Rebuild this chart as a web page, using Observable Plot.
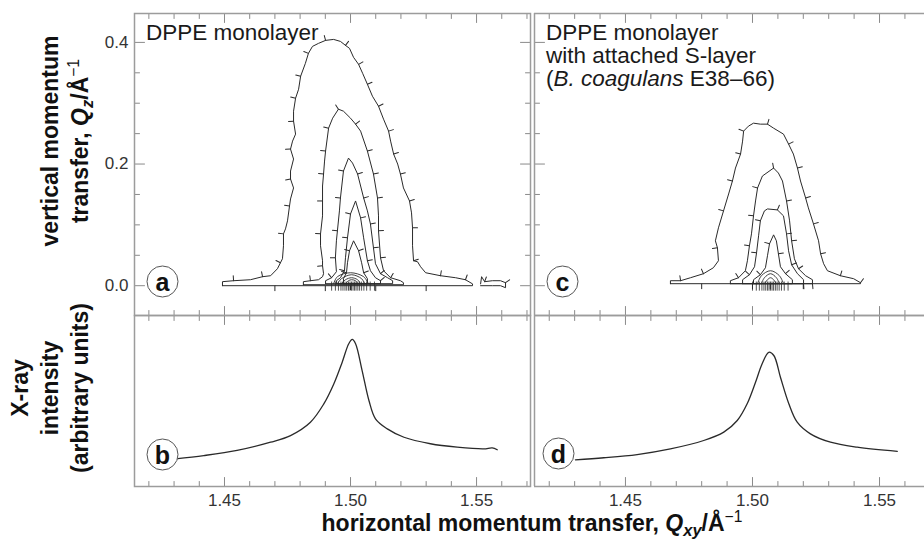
<!DOCTYPE html>
<html><head><meta charset="utf-8">
<script src="https://cdn.jsdelivr.net/npm/d3@7"></script>
<script src="https://cdn.jsdelivr.net/npm/@observablehq/plot@0.6"></script>
<style>
body{margin:0;background:#fff;}
#wrap{position:relative;width:924px;height:545px;overflow:hidden;font-family:"Liberation Sans",Arial,Helvetica,sans-serif;color:#1a1a1a;background:#fff;}
.panel{position:absolute;}
.ann{position:absolute;font-size:22.5px;line-height:23px;white-space:nowrap;color:#1a1a1a;}
.lab{position:absolute;font-weight:bold;font-size:23px;white-space:nowrap;text-align:center;color:#111;}
.rot{transform:translate(-50%,-50%) rotate(-90deg);line-height:30px;}
.sb{position:relative;top:0.3em;font-size:0.72em;line-height:0;}
.sp{position:relative;top:-0.55em;font-size:0.68em;font-weight:normal;line-height:0;}
</style></head>
<body><div id="wrap"></div>
<script>
// ---------- tick values ----------
const qTicksMajor = [1.45, 1.50, 1.55];
const qTicksMinor = [1.42,1.43,1.44,1.46,1.47,1.48,1.49,1.51,1.52,1.53,1.54,1.56,1.57];
const qzTicksMajor = [0, 0.2, 0.4];
const qzTicksMinor = [0.05,0.1,0.15,0.25,0.3,0.35];

// ---------- panel (a): contours [Qxy, Qz] ----------
const contourA1 = [[1.4492,0],[1.4492,0.0066],[1.4536,0.0082],[1.4603,0.0098],[1.4651,0.0148],[1.4683,0.0164],[1.4710,0.0279],[1.4722,0.0377],[1.4730,0.0443],[1.4734,0.0656],[1.4734,0.0852],[1.4742,0.0934],[1.4750,0.1066],[1.4758,0.1311],[1.4762,0.1426],[1.4774,0.1607],[1.4762,0.1754],[1.4762,0.1885],[1.4774,0.2082],[1.4762,0.2246],[1.4770,0.2377],[1.4782,0.2492],[1.4774,0.2705],[1.4774,0.2869],[1.4782,0.3082],[1.4794,0.323],[1.4802,0.3443],[1.4821,0.3656],[1.4833,0.382],[1.4849,0.3934],[1.4873,0.3984],[1.4901,0.4033],[1.4933,0.4049],[1.4960,0.4016],[1.4980,0.3951],[1.4996,0.3902],[1.5012,0.3754],[1.5032,0.3639],[1.5048,0.3492],[1.5067,0.3311],[1.5087,0.3115],[1.5111,0.2951],[1.5131,0.2738],[1.5151,0.2541],[1.5159,0.2377],[1.5171,0.2164],[1.5187,0.2],[1.5198,0.1836],[1.5210,0.1607],[1.5234,0.1393],[1.5242,0.1197],[1.5246,0.0951],[1.5246,0.0656],[1.5250,0.041],[1.5266,0.0393],[1.5278,0.0311],[1.5298,0.0213],[1.5357,0.0164],[1.5417,0.0131],[1.5456,0.0098],[1.5484,0.003],[1.5484,0],[1.5300,0],[1.5100,0],[1.4900,0],[1.4700,0],[1.4492,0]];
const contourA2 = [[1.4813,0.0016],[1.4813,0.0066],[1.4841,0.0082],[1.4873,0.0098],[1.4889,0.0148],[1.4893,0.0197],[1.4889,0.0328],[1.4889,0.041],[1.4881,0.0656],[1.4881,0.0852],[1.4889,0.1148],[1.4889,0.1393],[1.4889,0.1639],[1.4893,0.1836],[1.4897,0.2049],[1.4901,0.2213],[1.4913,0.259],[1.4929,0.2754],[1.4952,0.2902],[1.4972,0.2869],[1.5000,0.2754],[1.5020,0.2656],[1.5040,0.2541],[1.5067,0.2213],[1.5091,0.1836],[1.5107,0.1443],[1.5111,0.1148],[1.5111,0.0902],[1.5119,0.0459],[1.5131,0.0246],[1.5159,0.0131],[1.5198,0.0082],[1.5210,0.0049],[1.5210,0.0016],[1.5000,0.0016],[1.4813,0.0016]];
const contourA3 = [[1.4901,0.0033],[1.4901,0.0082],[1.4925,0.0131],[1.4944,0.023],[1.4940,0.0459],[1.4944,0.0738],[1.4948,0.0902],[1.4956,0.123],[1.4960,0.1443],[1.4972,0.1885],[1.4992,0.2098],[1.5008,0.2016],[1.5028,0.1836],[1.5052,0.1443],[1.5067,0.123],[1.5079,0.1016],[1.5091,0.0623],[1.5099,0.0361],[1.5119,0.0197],[1.5147,0.0131],[1.5167,0.0082],[1.5167,0.0033],[1.4901,0.0033]];
const contourA4 = [[1.4944,0.0033],[1.4944,0.0082],[1.4960,0.0131],[1.4976,0.0246],[1.4980,0.0459],[1.4988,0.0787],[1.5000,0.118],[1.5020,0.1393],[1.5040,0.1115],[1.5052,0.0787],[1.5067,0.041],[1.5079,0.0246],[1.5099,0.0131],[1.5119,0.0082],[1.5119,0.0033],[1.4944,0.0033]];
const contourA5 = [[1.4972,0.0033],[1.4972,0.0115],[1.4984,0.0213],[1.4988,0.0377],[1.4996,0.0574],[1.5012,0.0738],[1.5032,0.0574],[1.5044,0.0377],[1.5052,0.0213],[1.5067,0.0115],[1.5067,0.0033],[1.4972,0.0033]];
const pieceA = [[1.5516,0.003],[1.5520,0.0148],[1.5532,0.0066],[1.5563,0.0082],[1.5595,0.0082],[1.5615,0.0049],[1.5615,-0.0033],[1.5595,0],[1.5563,0],[1.5516,0]];
const arcA1 = [[1.4933,0.0033],[1.4948,0.0148],[1.5000,0.0213],[1.5052,0.0148],[1.5071,0.0033]];
const arcA2 = [[1.4948,0.0033],[1.4964,0.0115],[1.5004,0.018],[1.5044,0.0115],[1.5056,0.0033]];
const arcA3 = [[1.4964,0.0033],[1.4980,0.0098],[1.5004,0.0131],[1.5028,0.0098],[1.5040,0.0033]];
const arcA4 = [[1.4980,0.0033],[1.4992,0.0082],[1.5004,0.0098],[1.5020,0.0082],[1.5028,0.0033]];
const baseTicksA = [1.4925,1.4940,1.4952,1.4962,1.4970,1.4978,1.4985,1.4992,1.4998,1.5004,1.5010,1.5016,1.5022,1.5029,1.5036,1.5044,1.5053,1.5064,1.5078,1.5095];

// ---------- panel (c): contours [Qxy, Qz] ----------
const contourC1 = [[1.4677,0.0033],[1.4677,0.0082],[1.4717,0.0082],[1.4756,0.0131],[1.4807,0.0197],[1.4846,0.0295],[1.4866,0.041],[1.4862,0.0623],[1.4854,0.0738],[1.4866,0.0951],[1.4886,0.123],[1.4906,0.1508],[1.4921,0.1721],[1.4933,0.1934],[1.4953,0.2164],[1.4961,0.2377],[1.4965,0.2541],[1.4984,0.2623],[1.5004,0.2672],[1.5031,0.2656],[1.5059,0.2656],[1.5083,0.259],[1.5122,0.2492],[1.5142,0.2328],[1.5161,0.2164],[1.5177,0.1934],[1.5189,0.1721],[1.5209,0.1443],[1.5220,0.1279],[1.5240,0.1016],[1.5260,0.0738],[1.5268,0.0525],[1.5280,0.0361],[1.5295,0.0246],[1.5346,0.0164],[1.5398,0.0115],[1.5425,0.0049],[1.5425,0.0033],[1.5200,0.0033],[1.5000,0.0033],[1.4800,0.0033],[1.4677,0.0033]];
const contourC2 = [[1.4913,0.0033],[1.4913,0.0082],[1.4945,0.0131],[1.4972,0.0246],[1.4980,0.041],[1.4988,0.0656],[1.4996,0.0852],[1.5004,0.1148],[1.5012,0.1393],[1.5020,0.1607],[1.5039,0.1803],[1.5083,0.1934],[1.5102,0.1852],[1.5118,0.1721],[1.5134,0.1393],[1.5146,0.1066],[1.5154,0.0738],[1.5165,0.0443],[1.5181,0.0279],[1.5209,0.0164],[1.5236,0.0098],[1.5236,0.0033],[1.5070,0.0033],[1.4913,0.0033]];
const contourC3 = [[1.4961,0.0033],[1.4961,0.0098],[1.4988,0.018],[1.5008,0.0311],[1.5016,0.0541],[1.5024,0.082],[1.5031,0.1066],[1.5047,0.123],[1.5059,0.1262],[1.5098,0.1246],[1.5122,0.1148],[1.5134,0.0852],[1.5142,0.0574],[1.5154,0.0344],[1.5177,0.0197],[1.5201,0.0098],[1.5201,0.0033],[1.4961,0.0033]];
const contourC4 = [[1.5004,0.0033],[1.5004,0.0098],[1.5031,0.018],[1.5051,0.0295],[1.5059,0.0492],[1.5067,0.0689],[1.5083,0.0836],[1.5094,0.0738],[1.5102,0.0525],[1.5110,0.0311],[1.5130,0.0197],[1.5157,0.0098],[1.5157,0.0033],[1.5004,0.0033]];
const arcC1 = [[1.5020,0.0033],[1.5035,0.0164],[1.5071,0.0246],[1.5106,0.0164],[1.5122,0.0033]];
const arcC2 = [[1.5035,0.0033],[1.5047,0.0131],[1.5071,0.0197],[1.5094,0.0131],[1.5106,0.0033]];
const arcC3 = [[1.5047,0.0033],[1.5059,0.0098],[1.5071,0.0131],[1.5083,0.0098],[1.5094,0.0033]];
const baseTicksC = [1.5000,1.5015,1.5027,1.5037,1.5045,1.5052,1.5059,1.5065,1.5071,1.5077,1.5083,1.5090,1.5097,1.5105,1.5114,1.5125,1.5140];

// ---------- panels (b) and (d): X-ray intensity (arbitrary units) ----------
const qxyB = [1.4306,1.4418,1.4550,1.4683,1.4762,1.4841,1.4894,1.4934,1.4967,1.4993,1.5007,1.5020,1.5046,1.5073,1.5099,1.5146,1.5212,1.5317,1.5423,1.5529,1.5562,1.5582];
const intensityB = [16.2,18.1,21.1,25.9,29.8,37.6,48.3,60.1,72.7,83.5,86.0,83.5,67.8,50.3,39.6,33.7,28.8,25.0,23.0,22.0,22.6,21.5];
const qxyD = [1.4303,1.4415,1.4546,1.4677,1.4808,1.4887,1.4940,1.4979,1.5012,1.5038,1.5064,1.5084,1.5110,1.5143,1.5176,1.5228,1.5307,1.5412,1.5570];
const intensityD = [15.6,16.8,18.7,22.0,26.9,31.8,38.6,48.4,61.0,71.8,78.5,76.6,63.9,48.4,37.6,30.8,25.9,23.0,20.6];

// ---------- layout ----------
const qDomainLeft = [1.4143, 1.5714];
const qDomainRight = [1.4142, 1.5677];
const qzDomain = [-0.049, 0.4475];
const intensityDomain = [0, 100];

const FONT = '"Liberation Sans", Arial, Helvetica, sans-serif';
const INK = "#2a2a2a", FRAME = "#9c9c9c", TICK = "#8a8a8a";
const STYLE = {overflow: "visible", fontFamily: FONT, fontSize: "17px", color: "#333", background: "transparent"};
const shapeUp = {draw(ctx, l) { ctx.moveTo(0, 0); ctx.lineTo(0, -l); }};

function xTicks(anchors) {
  const m = [];
  for (const a of anchors) {
    const rotate = a === "top" ? 180 : 0;
    m.push(Plot.vector(qTicksMinor, {x: d => d, frameAnchor: a, rotate, length: 5, shape: shapeUp, anchor: "start", stroke: TICK, strokeWidth: 1}));
    m.push(Plot.vector(qTicksMajor, {x: d => d, frameAnchor: a, rotate, length: 9, shape: shapeUp, anchor: "start", stroke: TICK, strokeWidth: 1}));
  }
  return m;
}
function yTicks(anchors) {
  const m = [];
  for (const a of anchors) {
    const rotate = a === "left" ? 90 : -90;
    m.push(Plot.vector(qzTicksMinor, {y: d => d, frameAnchor: a, rotate, length: 5, shape: shapeUp, anchor: "start", stroke: TICK, strokeWidth: 1}));
    m.push(Plot.vector(qzTicksMajor, {y: d => d, frameAnchor: a, rotate, length: 10, shape: shapeUp, anchor: "start", stroke: TICK, strokeWidth: 1}));
  }
  return m;
}
function hachures(path, kx, ky, spacing = 21, offset = 9) {
  const out = []; let acc = spacing - offset;
  for (let i = 1; i < path.length - 1; i++) {
    const [x0, y0] = path[i - 1], [x1, y1] = path[i], [x2, y2] = path[i + 1];
    acc += Math.hypot((x1 - x0) * kx, (y1 - y0) * ky);
    if (acc >= spacing) {
      acc = 0;
      const dx = (x2 - x0) * kx, dy = (y2 - y0) * ky;
      out.push({x: x1, y: y1, rotate: Math.atan2(-dy, dx) * 180 / Math.PI});
    }
  }
  return out;
}
function contourMarks(paths, kx, ky) {
  const m = [];
  for (const p of paths) {
    m.push(Plot.line(p, {x: d => d[0], y: d => d[1], stroke: INK, strokeWidth: 1, curve: "linear"}));
    m.push(Plot.vector(hachures(p, kx, ky), {x: "x", y: "y", rotate: "rotate", length: 5, shape: shapeUp, anchor: "start", stroke: INK, strokeWidth: 1}));
  }
  return m;
}
function arcMarks(arcs) {
  return arcs.map(a => Plot.line(a, {x: d => d[0], y: d => d[1], stroke: INK, strokeWidth: 0.9, curve: "catmull-rom"}));
}
function badge(letter, dx, dy) {
  return [
    Plot.dot([letter], {frameAnchor: "bottom-left", dx, dy, r: 15.5, stroke: "#555", strokeWidth: 1, fill: "white"}),
    Plot.text([letter], {text: d => d, frameAnchor: "bottom-left", textAnchor: "middle", lineAnchor: "middle", dx, dy: dy + 1, fontSize: 25, fontWeight: "bold", fill: "#111"})
  ];
}

const wrap = document.getElementById("wrap");
function put(node, left, top) {
  const d = document.createElement("div");
  d.className = "panel"; d.style.left = left + "px"; d.style.top = top + "px";
  d.appendChild(node); wrap.appendChild(d);
}

const kyTop = 302 / (qzDomain[1] - qzDomain[0]);
const kxL = 396 / (qDomainLeft[1] - qDomainLeft[0]);
const kxR = 390 / (qDomainRight[1] - qDomainRight[0]);

// (a)
put(Plot.plot({
  width: 530, height: 315, marginLeft: 134, marginRight: 0, marginTop: 13, marginBottom: 0,
  style: STYLE,
  x: {domain: qDomainLeft, axis: null},
  y: {domain: qzDomain, axis: null},
  marks: [
    ...xTicks(["top", "bottom"]),
    ...yTicks(["left", "right"]),
    Plot.axisY(qzTicksMajor, {anchor: "left", tickSize: 0, tickPadding: 6, tickFormat: d3.format(".1f"), fontSize: 17, label: null}),
    Plot.ruleX(baseTicksA, {x: d => d, y1: 0.006, y2: -0.009, stroke: INK, strokeWidth: 0.8}),
    ...contourMarks([contourA1, contourA2, contourA3, contourA4, contourA5, pieceA], kxL, kyTop),
    ...arcMarks([arcA1, arcA2, arcA3, arcA4]),
    Plot.frame({stroke: FRAME, strokeWidth: 1.5}),
    ...badge("a", 28, -34)
  ]
}), 0, 0);

// (c)
put(Plot.plot({
  width: 390, height: 315, marginLeft: 0, marginRight: 0, marginTop: 13, marginBottom: 0,
  style: STYLE,
  x: {domain: qDomainRight, axis: null},
  y: {domain: qzDomain, axis: null},
  marks: [
    ...xTicks(["top", "bottom"]),
    ...yTicks(["left"]),
    Plot.ruleX(baseTicksC, {x: d => d, y1: 0.006, y2: -0.009, stroke: INK, strokeWidth: 0.8}),
    ...contourMarks([contourC1, contourC2, contourC3, contourC4], kxR, kyTop),
    ...arcMarks([arcC1, arcC2, arcC3]),
    Plot.ruleX([qDomainRight[0]], {stroke: FRAME, strokeWidth: 1.5}),
    Plot.ruleY([qzDomain[0], qzDomain[1]], {stroke: FRAME, strokeWidth: 1.5}),
    ...badge("c", 28, -34)
  ]
}), 534, 0);

// (b)
put(Plot.plot({
  width: 530, height: 211, marginLeft: 134, marginRight: 0, marginTop: 0, marginBottom: 40,
  style: STYLE,
  x: {domain: qDomainLeft, axis: null},
  y: {domain: intensityDomain, axis: null},
  marks: [
    ...xTicks(["top", "bottom"]),
    Plot.axisX(qTicksMajor, {anchor: "bottom", tickSize: 0, tickPadding: 7, tickFormat: d3.format(".2f"), fontSize: 17, label: null}),
    Plot.line(qxyB.map((q, i) => ({q, v: intensityB[i]})), {x: "q", y: "v", stroke: INK, strokeWidth: 1.3, curve: "catmull-rom"}),
    Plot.frame({stroke: FRAME, strokeWidth: 1.5}),
    ...badge("b", 28, -32)
  ]
}), 0, 315);

// (d)
put(Plot.plot({
  width: 390, height: 211, marginLeft: 0, marginRight: 0, marginTop: 0, marginBottom: 40,
  style: STYLE,
  x: {domain: qDomainRight, axis: null},
  y: {domain: intensityDomain, axis: null},
  marks: [
    ...xTicks(["top", "bottom"]),
    Plot.axisX(qTicksMajor, {anchor: "bottom", tickSize: 0, tickPadding: 7, tickFormat: d3.format(".2f"), fontSize: 17, label: null}),
    Plot.line(qxyD.map((q, i) => ({q, v: intensityD[i]})), {x: "q", y: "v", stroke: INK, strokeWidth: 1.3, curve: "catmull-rom"}),
    Plot.ruleX([qDomainRight[0]], {stroke: FRAME, strokeWidth: 1.5}),
    Plot.ruleY([intensityDomain[0], intensityDomain[1]], {stroke: FRAME, strokeWidth: 1.5}),
    ...badge("d", 24, -33)
  ]
}), 534, 315);

// ---------- text ----------
function html(cls, style, inner) {
  const d = document.createElement("div");
  d.className = cls; d.setAttribute("style", style); d.innerHTML = inner; wrap.appendChild(d);
}
html("ann", "left:146px;top:21px", "DPPE monolayer");
html("ann", "left:546px;top:21px", "DPPE monolayer<br>with attached S-layer<br>(<i>B. coagulans</i> E38–66)");
html("lab rot", "left:65px;top:141px", "vertical momentum<br>transfer, <i>Q<span class=\"sb\">z</span></i>/Å<span class=\"sp\">−1</span>");
html("lab rot", "left:50px;top:388px", "X-ray<br>intensity<br>(arbitrary units)");
html("lab", "left:532px;top:512px;transform:translateX(-50%);line-height:23px", "horizontal momentum transfer, <i>Q<span class=\"sb\">xy</span></i>/Å<span class=\"sp\">−1</span>");
</script></body></html>
